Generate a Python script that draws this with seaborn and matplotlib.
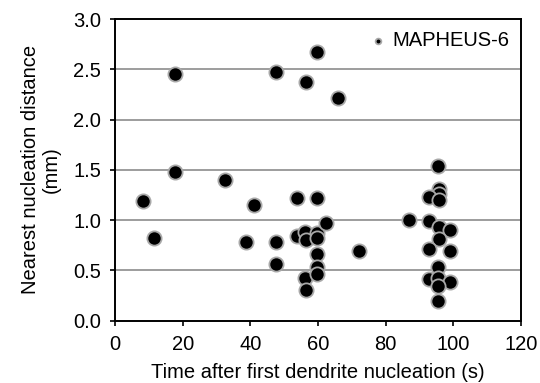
import matplotlib
matplotlib.use("Agg")
import matplotlib.pyplot as plt
import seaborn as sns
import pandas as pd

time_s = [8.2, 11.6, 17.8, 17.8, 32.5, 38.7, 41.2, 47.5, 47.5, 47.5,
          53.8, 53.8, 56.3, 56.2, 56.4, 56.2, 56.4, 59.6, 59.6, 59.7,
          59.7, 59.7, 59.7, 59.7, 62.4, 65.9, 72.0, 86.8, 95.5, 95.6,
          95.6, 92.9, 95.7, 92.8, 95.7, 99.1, 95.7, 92.8, 99.1, 95.5,
          92.8, 95.3, 99.1, 95.5, 95.5]
distance_mm = [1.19, 0.82, 2.45, 1.48, 1.40, 0.78, 1.15, 2.47, 0.78, 0.56,
               1.22, 0.84, 2.37, 0.88, 0.80, 0.42, 0.30, 2.67, 1.22, 0.87,
               0.82, 0.66, 0.53, 0.46, 0.97, 2.22, 0.69, 1.00, 1.54, 1.31,
               1.26, 1.23, 1.20, 0.99, 0.93, 0.90, 0.81, 0.71, 0.69, 0.53,
               0.41, 0.42, 0.38, 0.34, 0.19]
series_name = "MAPHEUS-6"
x_ticks = [0, 20, 40, 60, 80, 100, 120]
y_ticks = [0.0, 0.5, 1.0, 1.5, 2.0, 2.5, 3.0]

df = pd.DataFrame({"t": time_s, "d": distance_mm})

sns.set_style("white")
plt.rcParams["font.family"] = ["Liberation Sans", "DejaVu Sans"]
plt.rcParams["text.color"] = "black"
plt.rcParams["axes.labelcolor"] = "black"

FS = 14.5

fig = plt.figure(figsize=(5.4, 3.83), dpi=100)
ax = fig.add_axes([0.213, 0.163, 0.752, 0.787])

for y in y_ticks[1:-1]:
    ax.axhline(y, color="#8c8c8c", lw=1.2, zorder=0)

sns.scatterplot(data=df, x="t", y="d", ax=ax, color="black", s=105,
                edgecolor="#a8a8a8", linewidth=1.3, label=series_name, zorder=3)

ax.set_xlim(0, 120)
ax.set_ylim(0, 3.0)
ax.set_xticks(x_ticks)
ax.set_yticks(y_ticks)
ax.set_yticklabels([f"{v:.1f}" for v in y_ticks])
ax.tick_params(axis="both", direction="out", length=3.6, width=1.2,
               labelsize=FS, colors="black")
ax.tick_params(axis="y", pad=6.5)
ax.tick_params(axis="x", pad=6.5)
ax.tick_params(left=True, bottom=True)
for sp in ax.spines.values():
    sp.set_visible(True)
    sp.set_color("black")
    sp.set_linewidth(1.4)

ax.set_xlabel("Time after first dendrite nucleation (s)", fontsize=FS, labelpad=7)
ax.set_ylabel("Nearest nucleation distance\n(mm)", fontsize=FS, labelpad=9,
              linespacing=1.1)

leg = ax.legend(loc="upper right", frameon=False, fontsize=FS, markerscale=0.4,
                handletextpad=0.2, borderaxespad=0.2, handlelength=1.0)

fig.savefig("out.png", dpi=100)
